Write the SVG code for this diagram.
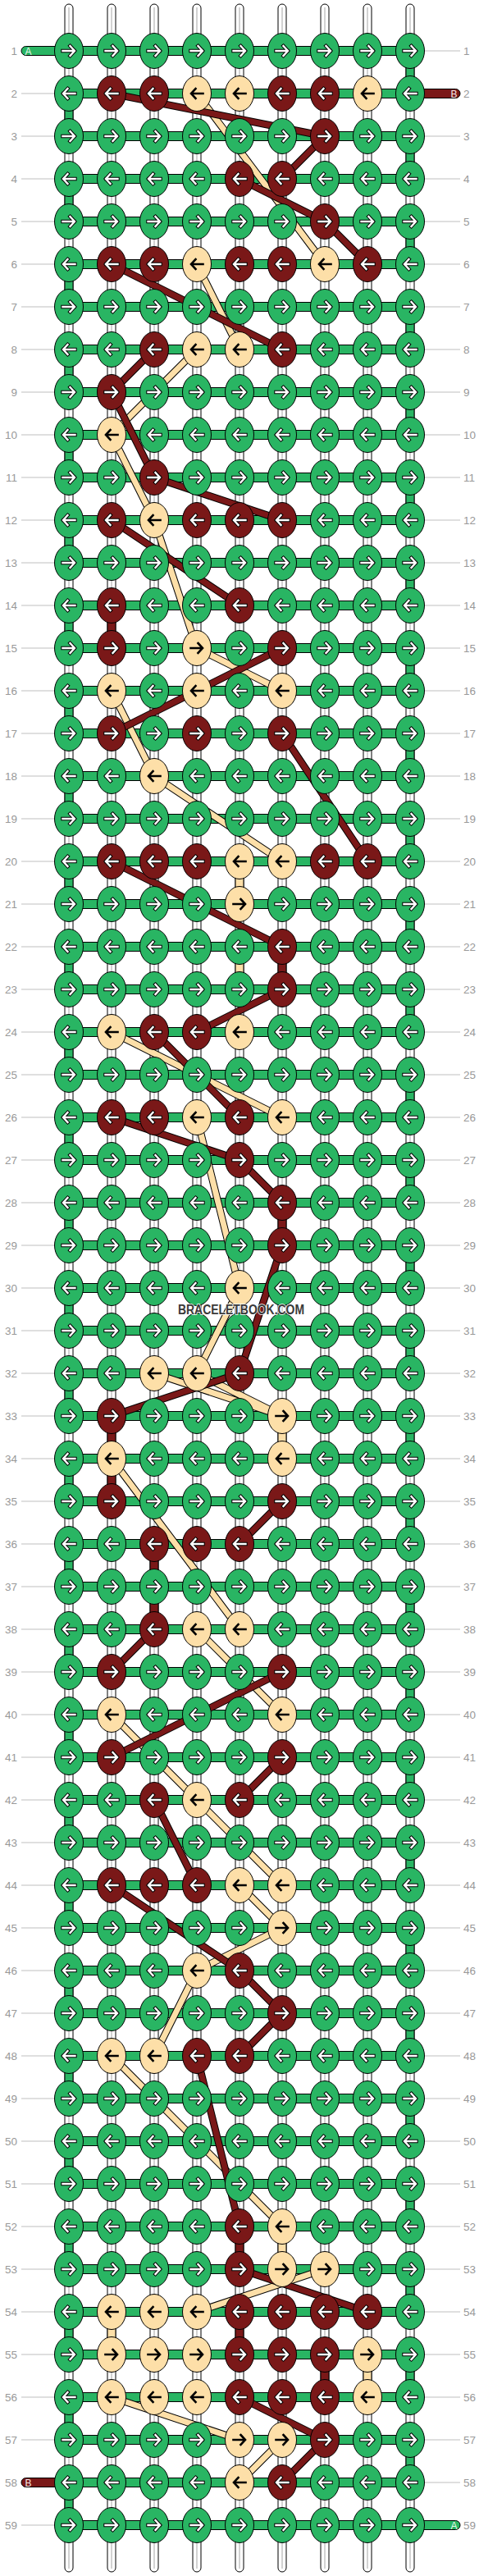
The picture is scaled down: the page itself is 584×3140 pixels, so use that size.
<svg xmlns="http://www.w3.org/2000/svg" xmlns:xlink="http://www.w3.org/1999/xlink" width="584" height="3140" viewBox="0 0 584 3140">
<style>
.kg{fill:#29b563;stroke:#000;stroke-width:1}
.kr{fill:#7a1818;stroke:#000;stroke-width:1}
.ky{fill:#fddfa8;stroke:#000;stroke-width:1}
.cg{fill:#29b563;stroke:#000;stroke-width:1}
.cr{fill:#7a1818;stroke:#000;stroke-width:1}
.cy{fill:#fddfa8;stroke:#000;stroke-width:1}
.ao{fill:none;stroke:#000;stroke-width:4.4;stroke-linecap:square}
.aw{fill:none;stroke:#fff;stroke-width:2.4;stroke-linecap:square}
.ab{fill:none;stroke:#000;stroke-width:2.6;stroke-linecap:square}
.st{fill:#fff;stroke:#000;stroke-width:1}
.sc{stroke:#c4c4c4;stroke-width:1.5}
.so{fill:none;stroke:#000;stroke-width:9}
.sr{fill:none;stroke:#7a1818;stroke-width:7}
.sy{fill:none;stroke:#fddfa8;stroke-width:7}
.lb{font-family:"Liberation Sans",Arial,sans-serif;font-size:13.5px;fill:#999}
.ll{fill:none;stroke:#c0c0c0;stroke-width:1.2}
.stub{font-family:"Liberation Sans",Arial,sans-serif;font-size:12px;text-anchor:middle}
</style>
<defs>
<path id="ar" d="M-7.5,0H6.5M1.5,-6L7,0L1.5,6"/>
<path id="al" d="M7.5,0H-6.5M-1.5,-6L-7,0L-1.5,6"/>
<g id="gr"><ellipse class="kg" rx="17.5" ry="21.5"/><use href="#ar" class="ao"/><use href="#ar" class="aw"/></g>
<g id="gl"><ellipse class="kg" rx="17.5" ry="21.5"/><use href="#al" class="ao"/><use href="#al" class="aw"/></g>
<g id="rr"><ellipse class="kr" rx="17.5" ry="21.5"/><use href="#ar" class="ao"/><use href="#ar" class="aw"/></g>
<g id="rl"><ellipse class="kr" rx="17.5" ry="21.5"/><use href="#al" class="ao"/><use href="#al" class="aw"/></g>
<g id="yr"><ellipse class="ky" rx="17.5" ry="21.5"/><use href="#ar" class="ab"/></g>
<g id="yl"><ellipse class="ky" rx="17.5" ry="21.5"/><use href="#al" class="ab"/></g>
<rect id="hb" class="cg" x="84" y="-5.5" width="416" height="11"/>
<rect id="vg" class="cg" x="-5" y="12" width="10" height="28"/>
<rect id="vr" class="cr" x="-5" y="12" width="10" height="28"/>
<rect id="vy" class="cy" x="-5" y="12" width="10" height="28"/>
<g id="lnY">
<path d="M240,114L396,322M240,322L292,426M240,426L136,530M136,530L188,634M188,634L240,790M240,790L344,842M136,842L188,946M188,946L344,1050M136,1258L344,1362M240,1362L292,1570M292,1570L240,1674M188,1674L344,1726M240,1674L344,1726M136,1778L292,1986M240,1986L344,2090M136,2090L240,2194M240,2194L344,2298M292,2298L344,2350M344,2350L240,2402M240,2402L188,2506M136,2506L344,2714M396,2766L240,2818M136,2922L292,2974M344,2974L292,3026"/>
</g>
<g id="lnR">
<path d="M136,114L396,166M396,166L344,218M292,218L396,270M396,270L448,322M136,322L344,426M188,426L136,478M136,478L188,582M188,582L344,634M136,634L292,738M344,790L136,894M344,894L448,1050M136,1050L344,1154M344,1206L240,1258M188,1258L292,1362M136,1362L292,1414M292,1414L344,1466M344,1518L292,1674M292,1674L136,1726M344,1830L292,1882M188,1986L136,2038M344,2038L136,2142M344,2142L292,2194M188,2194L240,2298M136,2298L292,2402M292,2402L344,2454M344,2454L292,2506M240,2506L292,2714M292,2766L448,2818M292,2922L396,2974M396,2974L344,3026"/>
</g>
</defs>
<rect width="584" height="3140" fill="#fff"/>
<g id="strings">
<rect class="st" x="79" y="5" width="10" height="3130" rx="5"/>
<rect class="st" x="131" y="5" width="10" height="3130" rx="5"/>
<rect class="st" x="183" y="5" width="10" height="3130" rx="5"/>
<rect class="st" x="235" y="5" width="10" height="3130" rx="5"/>
<rect class="st" x="287" y="5" width="10" height="3130" rx="5"/>
<rect class="st" x="339" y="5" width="10" height="3130" rx="5"/>
<rect class="st" x="391" y="5" width="10" height="3130" rx="5"/>
<rect class="st" x="443" y="5" width="10" height="3130" rx="5"/>
<rect class="st" x="495" y="5" width="10" height="3130" rx="5"/>
<path class="sc" d="M84,9V3131M136,9V3131M188,9V3131M240,9V3131M292,9V3131M344,9V3131M396,9V3131M448,9V3131M500,9V3131"/>
</g>
<g id="connectors">
<g id="rows-thread">
<use href="#hb" y="62"/><use href="#hb" y="114"/><use href="#hb" y="166"/><use href="#hb" y="218"/><use href="#hb" y="270"/><use href="#hb" y="322"/><use href="#hb" y="374"/><use href="#hb" y="426"/><use href="#hb" y="478"/><use href="#hb" y="530"/>
<use href="#hb" y="582"/><use href="#hb" y="634"/><use href="#hb" y="686"/><use href="#hb" y="738"/><use href="#hb" y="790"/><use href="#hb" y="842"/><use href="#hb" y="894"/><use href="#hb" y="946"/><use href="#hb" y="998"/><use href="#hb" y="1050"/>
<use href="#hb" y="1102"/><use href="#hb" y="1154"/><use href="#hb" y="1206"/><use href="#hb" y="1258"/><use href="#hb" y="1310"/><use href="#hb" y="1362"/><use href="#hb" y="1414"/><use href="#hb" y="1466"/><use href="#hb" y="1518"/><use href="#hb" y="1570"/>
<use href="#hb" y="1622"/><use href="#hb" y="1674"/><use href="#hb" y="1726"/><use href="#hb" y="1778"/><use href="#hb" y="1830"/><use href="#hb" y="1882"/><use href="#hb" y="1934"/><use href="#hb" y="1986"/><use href="#hb" y="2038"/><use href="#hb" y="2090"/>
<use href="#hb" y="2142"/><use href="#hb" y="2194"/><use href="#hb" y="2246"/><use href="#hb" y="2298"/><use href="#hb" y="2350"/><use href="#hb" y="2402"/><use href="#hb" y="2454"/><use href="#hb" y="2506"/><use href="#hb" y="2558"/><use href="#hb" y="2610"/>
<use href="#hb" y="2662"/><use href="#hb" y="2714"/><use href="#hb" y="2766"/><use href="#hb" y="2818"/><use href="#hb" y="2870"/><use href="#hb" y="2922"/><use href="#hb" y="2974"/><use href="#hb" y="3026"/><use href="#hb" y="3078"/>
</g>
<g id="edge-turns">
<use href="#vg" x="84" y="114"/><use href="#vg" x="84" y="218"/><use href="#vg" x="84" y="322"/><use href="#vg" x="84" y="426"/><use href="#vg" x="84" y="530"/><use href="#vg" x="84" y="634"/><use href="#vg" x="84" y="738"/><use href="#vg" x="84" y="842"/><use href="#vg" x="84" y="946"/><use href="#vg" x="84" y="1050"/>
<use href="#vg" x="84" y="1154"/><use href="#vg" x="84" y="1258"/><use href="#vg" x="84" y="1362"/><use href="#vg" x="84" y="1466"/><use href="#vg" x="84" y="1570"/><use href="#vg" x="84" y="1674"/><use href="#vg" x="84" y="1778"/><use href="#vg" x="84" y="1882"/><use href="#vg" x="84" y="1986"/><use href="#vg" x="84" y="2090"/>
<use href="#vg" x="84" y="2194"/><use href="#vg" x="84" y="2298"/><use href="#vg" x="84" y="2402"/><use href="#vg" x="84" y="2506"/><use href="#vg" x="84" y="2610"/><use href="#vg" x="84" y="2714"/><use href="#vg" x="84" y="2818"/><use href="#vg" x="84" y="2922"/><use href="#vg" x="84" y="3026"/>
<use href="#vg" x="500" y="62"/><use href="#vg" x="500" y="166"/><use href="#vg" x="500" y="270"/><use href="#vg" x="500" y="374"/><use href="#vg" x="500" y="478"/><use href="#vg" x="500" y="582"/><use href="#vg" x="500" y="686"/><use href="#vg" x="500" y="790"/><use href="#vg" x="500" y="894"/><use href="#vg" x="500" y="998"/>
<use href="#vg" x="500" y="1102"/><use href="#vg" x="500" y="1206"/><use href="#vg" x="500" y="1310"/><use href="#vg" x="500" y="1414"/><use href="#vg" x="500" y="1518"/><use href="#vg" x="500" y="1622"/><use href="#vg" x="500" y="1726"/><use href="#vg" x="500" y="1830"/><use href="#vg" x="500" y="1934"/><use href="#vg" x="500" y="2038"/>
<use href="#vg" x="500" y="2142"/><use href="#vg" x="500" y="2246"/><use href="#vg" x="500" y="2350"/><use href="#vg" x="500" y="2454"/><use href="#vg" x="500" y="2558"/><use href="#vg" x="500" y="2662"/><use href="#vg" x="500" y="2766"/><use href="#vg" x="500" y="2870"/><use href="#vg" x="500" y="2974"/>
</g>
<g id="color-verticals">
<use href="#vr" x="136" y="738"/><use href="#vr" x="344" y="1154"/><use href="#vr" x="344" y="1466"/><use href="#vr" x="136" y="1726"/><use href="#vr" x="136" y="1778"/><use href="#vr" x="188" y="1882"/><use href="#vr" x="188" y="1934"/><use href="#vr" x="292" y="2714"/><use href="#vr" x="292" y="2818"/><use href="#vr" x="396" y="2870"/>
<use href="#vy" x="292" y="1050"/><use href="#vy" x="292" y="1154"/><use href="#vy" x="344" y="1726"/><use href="#vy" x="344" y="2714"/><use href="#vy" x="136" y="2818"/><use href="#vy" x="448" y="2870"/>
</g>
<g id="strands">
<use href="#lnY" class="so"/><use href="#lnY" class="sy"/>
<use href="#lnR" class="so"/><use href="#lnR" class="sr"/>
</g>
<g id="stubs">
<rect class="cg" x="26" y="56.5" width="62" height="11" rx="5.5"/>
<rect class="cr" x="496" y="108.5" width="65" height="11" rx="5.5"/>
<rect class="cr" x="26" y="3020.5" width="62" height="11" rx="5.5"/>
<rect class="cg" x="496" y="3072.5" width="65" height="11" rx="5.5"/>
<text class="stub" x="34.5" y="66.5" fill="#e6f7ea">A</text>
<text class="stub" x="553.5" y="118.5" fill="#f5e6e6">B</text>
<text class="stub" x="34.5" y="3030.5" fill="#f5e6e6">B</text>
<text class="stub" x="553.5" y="3082.5" fill="#e6f7ea">A</text>
</g>
</g>
<g id="labels">
<path class="ll" d="M26,114H67M26,166H67M26,218H67M26,270H67M26,322H67M26,374H67M26,426H67M26,478H67M26,530H67M26,582H67M26,634H67M26,686H67M26,738H67M26,790H67M26,842H67M26,894H67M26,946H67M26,998H67M26,1050H67M26,1102H67M26,1154H67M26,1206H67M26,1258H67M26,1310H67M26,1362H67M26,1414H67M26,1466H67M26,1518H67M26,1570H67M26,1622H67M26,1674H67M26,1726H67M26,1778H67M26,1830H67M26,1882H67M26,1934H67M26,1986H67M26,2038H67M26,2090H67M26,2142H67M26,2194H67M26,2246H67M26,2298H67M26,2350H67M26,2402H67M26,2454H67M26,2506H67M26,2558H67M26,2610H67M26,2662H67M26,2714H67M26,2766H67M26,2818H67M26,2870H67M26,2922H67M26,2974H67M26,3078H67"/>
<path class="ll" d="M517,62H561M517,166H561M517,218H561M517,270H561M517,322H561M517,374H561M517,426H561M517,478H561M517,530H561M517,582H561M517,634H561M517,686H561M517,738H561M517,790H561M517,842H561M517,894H561M517,946H561M517,998H561M517,1050H561M517,1102H561M517,1154H561M517,1206H561M517,1258H561M517,1310H561M517,1362H561M517,1414H561M517,1466H561M517,1518H561M517,1570H561M517,1622H561M517,1674H561M517,1726H561M517,1778H561M517,1830H561M517,1882H561M517,1934H561M517,1986H561M517,2038H561M517,2090H561M517,2142H561M517,2194H561M517,2246H561M517,2298H561M517,2350H561M517,2402H561M517,2454H561M517,2506H561M517,2558H561M517,2610H561M517,2662H561M517,2714H561M517,2766H561M517,2818H561M517,2870H561M517,2922H561M517,2974H561M517,3026H561"/>
<g class="lb" text-anchor="end">
<text x="21" y="67">1</text><text x="21" y="119">2</text><text x="21" y="171">3</text><text x="21" y="223">4</text><text x="21" y="275">5</text><text x="21" y="327">6</text><text x="21" y="379">7</text><text x="21" y="431">8</text><text x="21" y="483">9</text><text x="21" y="535">10</text>
<text x="21" y="587">11</text><text x="21" y="639">12</text><text x="21" y="691">13</text><text x="21" y="743">14</text><text x="21" y="795">15</text><text x="21" y="847">16</text><text x="21" y="899">17</text><text x="21" y="951">18</text><text x="21" y="1003">19</text><text x="21" y="1055">20</text>
<text x="21" y="1107">21</text><text x="21" y="1159">22</text><text x="21" y="1211">23</text><text x="21" y="1263">24</text><text x="21" y="1315">25</text><text x="21" y="1367">26</text><text x="21" y="1419">27</text><text x="21" y="1471">28</text><text x="21" y="1523">29</text><text x="21" y="1575">30</text>
<text x="21" y="1627">31</text><text x="21" y="1679">32</text><text x="21" y="1731">33</text><text x="21" y="1783">34</text><text x="21" y="1835">35</text><text x="21" y="1887">36</text><text x="21" y="1939">37</text><text x="21" y="1991">38</text><text x="21" y="2043">39</text><text x="21" y="2095">40</text>
<text x="21" y="2147">41</text><text x="21" y="2199">42</text><text x="21" y="2251">43</text><text x="21" y="2303">44</text><text x="21" y="2355">45</text><text x="21" y="2407">46</text><text x="21" y="2459">47</text><text x="21" y="2511">48</text><text x="21" y="2563">49</text><text x="21" y="2615">50</text>
<text x="21" y="2667">51</text><text x="21" y="2719">52</text><text x="21" y="2771">53</text><text x="21" y="2823">54</text><text x="21" y="2875">55</text><text x="21" y="2927">56</text><text x="21" y="2979">57</text><text x="21" y="3031">58</text><text x="21" y="3083">59</text>
</g>
<g class="lb" text-anchor="start">
<text x="565" y="67">1</text><text x="565" y="119">2</text><text x="565" y="171">3</text><text x="565" y="223">4</text><text x="565" y="275">5</text><text x="565" y="327">6</text><text x="565" y="379">7</text><text x="565" y="431">8</text><text x="565" y="483">9</text><text x="565" y="535">10</text>
<text x="565" y="587">11</text><text x="565" y="639">12</text><text x="565" y="691">13</text><text x="565" y="743">14</text><text x="565" y="795">15</text><text x="565" y="847">16</text><text x="565" y="899">17</text><text x="565" y="951">18</text><text x="565" y="1003">19</text><text x="565" y="1055">20</text>
<text x="565" y="1107">21</text><text x="565" y="1159">22</text><text x="565" y="1211">23</text><text x="565" y="1263">24</text><text x="565" y="1315">25</text><text x="565" y="1367">26</text><text x="565" y="1419">27</text><text x="565" y="1471">28</text><text x="565" y="1523">29</text><text x="565" y="1575">30</text>
<text x="565" y="1627">31</text><text x="565" y="1679">32</text><text x="565" y="1731">33</text><text x="565" y="1783">34</text><text x="565" y="1835">35</text><text x="565" y="1887">36</text><text x="565" y="1939">37</text><text x="565" y="1991">38</text><text x="565" y="2043">39</text><text x="565" y="2095">40</text>
<text x="565" y="2147">41</text><text x="565" y="2199">42</text><text x="565" y="2251">43</text><text x="565" y="2303">44</text><text x="565" y="2355">45</text><text x="565" y="2407">46</text><text x="565" y="2459">47</text><text x="565" y="2511">48</text><text x="565" y="2563">49</text><text x="565" y="2615">50</text>
<text x="565" y="2667">51</text><text x="565" y="2719">52</text><text x="565" y="2771">53</text><text x="565" y="2823">54</text><text x="565" y="2875">55</text><text x="565" y="2927">56</text><text x="565" y="2979">57</text><text x="565" y="3031">58</text><text x="565" y="3083">59</text>
</g>
</g>
<g id="knots">
<g id="row1" transform="translate(0,62)"><g id="k1-1"><use href="#gr" x="84"/></g><g id="k1-2"><use href="#gr" x="136"/></g><g id="k1-3"><use href="#gr" x="188"/></g><g id="k1-4"><use href="#gr" x="240"/></g><g id="k1-5"><use href="#gr" x="292"/></g><g id="k1-6"><use href="#gr" x="344"/></g><g id="k1-7"><use href="#gr" x="396"/></g><g id="k1-8"><use href="#gr" x="448"/></g><g id="k1-9"><use href="#gr" x="500"/></g></g>
<g id="row2" transform="translate(0,114)"><g id="k2-1"><use href="#gl" x="84"/></g><g id="k2-2"><use href="#rl" x="136"/></g><g id="k2-3"><use href="#rl" x="188"/></g><g id="k2-4"><use href="#yl" x="240"/></g><g id="k2-5"><use href="#yl" x="292"/></g><g id="k2-6"><use href="#rl" x="344"/></g><g id="k2-7"><use href="#rl" x="396"/></g><g id="k2-8"><use href="#yl" x="448"/></g><g id="k2-9"><use href="#gl" x="500"/></g></g>
<g id="row3" transform="translate(0,166)"><g id="k3-1"><use href="#gr" x="84"/></g><g id="k3-2"><use href="#gr" x="136"/></g><g id="k3-3"><use href="#gr" x="188"/></g><g id="k3-4"><use href="#gr" x="240"/></g><g id="k3-5"><use href="#gr" x="292"/></g><g id="k3-6"><use href="#gr" x="344"/></g><g id="k3-7"><use href="#rr" x="396"/></g><g id="k3-8"><use href="#gr" x="448"/></g><g id="k3-9"><use href="#gr" x="500"/></g></g>
<g id="row4" transform="translate(0,218)"><g id="k4-1"><use href="#gl" x="84"/></g><g id="k4-2"><use href="#gl" x="136"/></g><g id="k4-3"><use href="#gl" x="188"/></g><g id="k4-4"><use href="#gl" x="240"/></g><g id="k4-5"><use href="#rl" x="292"/></g><g id="k4-6"><use href="#rl" x="344"/></g><g id="k4-7"><use href="#gl" x="396"/></g><g id="k4-8"><use href="#gl" x="448"/></g><g id="k4-9"><use href="#gl" x="500"/></g></g>
<g id="row5" transform="translate(0,270)"><g id="k5-1"><use href="#gr" x="84"/></g><g id="k5-2"><use href="#gr" x="136"/></g><g id="k5-3"><use href="#gr" x="188"/></g><g id="k5-4"><use href="#gr" x="240"/></g><g id="k5-5"><use href="#gr" x="292"/></g><g id="k5-6"><use href="#gr" x="344"/></g><g id="k5-7"><use href="#rr" x="396"/></g><g id="k5-8"><use href="#gr" x="448"/></g><g id="k5-9"><use href="#gr" x="500"/></g></g>
<g id="row6" transform="translate(0,322)"><g id="k6-1"><use href="#gl" x="84"/></g><g id="k6-2"><use href="#rl" x="136"/></g><g id="k6-3"><use href="#rl" x="188"/></g><g id="k6-4"><use href="#yl" x="240"/></g><g id="k6-5"><use href="#rl" x="292"/></g><g id="k6-6"><use href="#rl" x="344"/></g><g id="k6-7"><use href="#yl" x="396"/></g><g id="k6-8"><use href="#rl" x="448"/></g><g id="k6-9"><use href="#gl" x="500"/></g></g>
<g id="row7" transform="translate(0,374)"><g id="k7-1"><use href="#gr" x="84"/></g><g id="k7-2"><use href="#gr" x="136"/></g><g id="k7-3"><use href="#gr" x="188"/></g><g id="k7-4"><use href="#gr" x="240"/></g><g id="k7-5"><use href="#gr" x="292"/></g><g id="k7-6"><use href="#gr" x="344"/></g><g id="k7-7"><use href="#gr" x="396"/></g><g id="k7-8"><use href="#gr" x="448"/></g><g id="k7-9"><use href="#gr" x="500"/></g></g>
<g id="row8" transform="translate(0,426)"><g id="k8-1"><use href="#gl" x="84"/></g><g id="k8-2"><use href="#gl" x="136"/></g><g id="k8-3"><use href="#rl" x="188"/></g><g id="k8-4"><use href="#yl" x="240"/></g><g id="k8-5"><use href="#yl" x="292"/></g><g id="k8-6"><use href="#rl" x="344"/></g><g id="k8-7"><use href="#gl" x="396"/></g><g id="k8-8"><use href="#gl" x="448"/></g><g id="k8-9"><use href="#gl" x="500"/></g></g>
<g id="row9" transform="translate(0,478)"><g id="k9-1"><use href="#gr" x="84"/></g><g id="k9-2"><use href="#rr" x="136"/></g><g id="k9-3"><use href="#gr" x="188"/></g><g id="k9-4"><use href="#gr" x="240"/></g><g id="k9-5"><use href="#gr" x="292"/></g><g id="k9-6"><use href="#gr" x="344"/></g><g id="k9-7"><use href="#gr" x="396"/></g><g id="k9-8"><use href="#gr" x="448"/></g><g id="k9-9"><use href="#gr" x="500"/></g></g>
<g id="row10" transform="translate(0,530)"><g id="k10-1"><use href="#gl" x="84"/></g><g id="k10-2"><use href="#yl" x="136"/></g><g id="k10-3"><use href="#gl" x="188"/></g><g id="k10-4"><use href="#gl" x="240"/></g><g id="k10-5"><use href="#gl" x="292"/></g><g id="k10-6"><use href="#gl" x="344"/></g><g id="k10-7"><use href="#gl" x="396"/></g><g id="k10-8"><use href="#gl" x="448"/></g><g id="k10-9"><use href="#gl" x="500"/></g></g>
<g id="row11" transform="translate(0,582)"><g id="k11-1"><use href="#gr" x="84"/></g><g id="k11-2"><use href="#gr" x="136"/></g><g id="k11-3"><use href="#rr" x="188"/></g><g id="k11-4"><use href="#gr" x="240"/></g><g id="k11-5"><use href="#gr" x="292"/></g><g id="k11-6"><use href="#gr" x="344"/></g><g id="k11-7"><use href="#gr" x="396"/></g><g id="k11-8"><use href="#gr" x="448"/></g><g id="k11-9"><use href="#gr" x="500"/></g></g>
<g id="row12" transform="translate(0,634)"><g id="k12-1"><use href="#gl" x="84"/></g><g id="k12-2"><use href="#rl" x="136"/></g><g id="k12-3"><use href="#yl" x="188"/></g><g id="k12-4"><use href="#rl" x="240"/></g><g id="k12-5"><use href="#rl" x="292"/></g><g id="k12-6"><use href="#rl" x="344"/></g><g id="k12-7"><use href="#gl" x="396"/></g><g id="k12-8"><use href="#gl" x="448"/></g><g id="k12-9"><use href="#gl" x="500"/></g></g>
<g id="row13" transform="translate(0,686)"><g id="k13-1"><use href="#gr" x="84"/></g><g id="k13-2"><use href="#gr" x="136"/></g><g id="k13-3"><use href="#gr" x="188"/></g><g id="k13-4"><use href="#gr" x="240"/></g><g id="k13-5"><use href="#gr" x="292"/></g><g id="k13-6"><use href="#gr" x="344"/></g><g id="k13-7"><use href="#gr" x="396"/></g><g id="k13-8"><use href="#gr" x="448"/></g><g id="k13-9"><use href="#gr" x="500"/></g></g>
<g id="row14" transform="translate(0,738)"><g id="k14-1"><use href="#gl" x="84"/></g><g id="k14-2"><use href="#rl" x="136"/></g><g id="k14-3"><use href="#gl" x="188"/></g><g id="k14-4"><use href="#gl" x="240"/></g><g id="k14-5"><use href="#rl" x="292"/></g><g id="k14-6"><use href="#gl" x="344"/></g><g id="k14-7"><use href="#gl" x="396"/></g><g id="k14-8"><use href="#gl" x="448"/></g><g id="k14-9"><use href="#gl" x="500"/></g></g>
<g id="row15" transform="translate(0,790)"><g id="k15-1"><use href="#gr" x="84"/></g><g id="k15-2"><use href="#rr" x="136"/></g><g id="k15-3"><use href="#gr" x="188"/></g><g id="k15-4"><use href="#yr" x="240"/></g><g id="k15-5"><use href="#gr" x="292"/></g><g id="k15-6"><use href="#rr" x="344"/></g><g id="k15-7"><use href="#gr" x="396"/></g><g id="k15-8"><use href="#gr" x="448"/></g><g id="k15-9"><use href="#gr" x="500"/></g></g>
<g id="row16" transform="translate(0,842)"><g id="k16-1"><use href="#gl" x="84"/></g><g id="k16-2"><use href="#yl" x="136"/></g><g id="k16-3"><use href="#gl" x="188"/></g><g id="k16-4"><use href="#yl" x="240"/></g><g id="k16-5"><use href="#gl" x="292"/></g><g id="k16-6"><use href="#yl" x="344"/></g><g id="k16-7"><use href="#gl" x="396"/></g><g id="k16-8"><use href="#gl" x="448"/></g><g id="k16-9"><use href="#gl" x="500"/></g></g>
<g id="row17" transform="translate(0,894)"><g id="k17-1"><use href="#gr" x="84"/></g><g id="k17-2"><use href="#rr" x="136"/></g><g id="k17-3"><use href="#gr" x="188"/></g><g id="k17-4"><use href="#rr" x="240"/></g><g id="k17-5"><use href="#gr" x="292"/></g><g id="k17-6"><use href="#rr" x="344"/></g><g id="k17-7"><use href="#gr" x="396"/></g><g id="k17-8"><use href="#gr" x="448"/></g><g id="k17-9"><use href="#gr" x="500"/></g></g>
<g id="row18" transform="translate(0,946)"><g id="k18-1"><use href="#gl" x="84"/></g><g id="k18-2"><use href="#gl" x="136"/></g><g id="k18-3"><use href="#yl" x="188"/></g><g id="k18-4"><use href="#gl" x="240"/></g><g id="k18-5"><use href="#gl" x="292"/></g><g id="k18-6"><use href="#gl" x="344"/></g><g id="k18-7"><use href="#gl" x="396"/></g><g id="k18-8"><use href="#gl" x="448"/></g><g id="k18-9"><use href="#gl" x="500"/></g></g>
<g id="row19" transform="translate(0,998)"><g id="k19-1"><use href="#gr" x="84"/></g><g id="k19-2"><use href="#gr" x="136"/></g><g id="k19-3"><use href="#gr" x="188"/></g><g id="k19-4"><use href="#gr" x="240"/></g><g id="k19-5"><use href="#gr" x="292"/></g><g id="k19-6"><use href="#gr" x="344"/></g><g id="k19-7"><use href="#gr" x="396"/></g><g id="k19-8"><use href="#gr" x="448"/></g><g id="k19-9"><use href="#gr" x="500"/></g></g>
<g id="row20" transform="translate(0,1050)"><g id="k20-1"><use href="#gl" x="84"/></g><g id="k20-2"><use href="#rl" x="136"/></g><g id="k20-3"><use href="#rl" x="188"/></g><g id="k20-4"><use href="#rl" x="240"/></g><g id="k20-5"><use href="#yl" x="292"/></g><g id="k20-6"><use href="#yl" x="344"/></g><g id="k20-7"><use href="#rl" x="396"/></g><g id="k20-8"><use href="#rl" x="448"/></g><g id="k20-9"><use href="#gl" x="500"/></g></g>
<g id="row21" transform="translate(0,1102)"><g id="k21-1"><use href="#gr" x="84"/></g><g id="k21-2"><use href="#gr" x="136"/></g><g id="k21-3"><use href="#gr" x="188"/></g><g id="k21-4"><use href="#gr" x="240"/></g><g id="k21-5"><use href="#yr" x="292"/></g><g id="k21-6"><use href="#gr" x="344"/></g><g id="k21-7"><use href="#gr" x="396"/></g><g id="k21-8"><use href="#gr" x="448"/></g><g id="k21-9"><use href="#gr" x="500"/></g></g>
<g id="row22" transform="translate(0,1154)"><g id="k22-1"><use href="#gl" x="84"/></g><g id="k22-2"><use href="#gl" x="136"/></g><g id="k22-3"><use href="#gl" x="188"/></g><g id="k22-4"><use href="#gl" x="240"/></g><g id="k22-5"><use href="#gl" x="292"/></g><g id="k22-6"><use href="#rl" x="344"/></g><g id="k22-7"><use href="#gl" x="396"/></g><g id="k22-8"><use href="#gl" x="448"/></g><g id="k22-9"><use href="#gl" x="500"/></g></g>
<g id="row23" transform="translate(0,1206)"><g id="k23-1"><use href="#gr" x="84"/></g><g id="k23-2"><use href="#gr" x="136"/></g><g id="k23-3"><use href="#gr" x="188"/></g><g id="k23-4"><use href="#gr" x="240"/></g><g id="k23-5"><use href="#gr" x="292"/></g><g id="k23-6"><use href="#rr" x="344"/></g><g id="k23-7"><use href="#gr" x="396"/></g><g id="k23-8"><use href="#gr" x="448"/></g><g id="k23-9"><use href="#gr" x="500"/></g></g>
<g id="row24" transform="translate(0,1258)"><g id="k24-1"><use href="#gl" x="84"/></g><g id="k24-2"><use href="#yl" x="136"/></g><g id="k24-3"><use href="#rl" x="188"/></g><g id="k24-4"><use href="#rl" x="240"/></g><g id="k24-5"><use href="#yl" x="292"/></g><g id="k24-6"><use href="#gl" x="344"/></g><g id="k24-7"><use href="#gl" x="396"/></g><g id="k24-8"><use href="#gl" x="448"/></g><g id="k24-9"><use href="#gl" x="500"/></g></g>
<g id="row25" transform="translate(0,1310)"><g id="k25-1"><use href="#gr" x="84"/></g><g id="k25-2"><use href="#gr" x="136"/></g><g id="k25-3"><use href="#gr" x="188"/></g><g id="k25-4"><use href="#gr" x="240"/></g><g id="k25-5"><use href="#gr" x="292"/></g><g id="k25-6"><use href="#gr" x="344"/></g><g id="k25-7"><use href="#gr" x="396"/></g><g id="k25-8"><use href="#gr" x="448"/></g><g id="k25-9"><use href="#gr" x="500"/></g></g>
<g id="row26" transform="translate(0,1362)"><g id="k26-1"><use href="#gl" x="84"/></g><g id="k26-2"><use href="#rl" x="136"/></g><g id="k26-3"><use href="#rl" x="188"/></g><g id="k26-4"><use href="#yl" x="240"/></g><g id="k26-5"><use href="#rl" x="292"/></g><g id="k26-6"><use href="#yl" x="344"/></g><g id="k26-7"><use href="#gl" x="396"/></g><g id="k26-8"><use href="#gl" x="448"/></g><g id="k26-9"><use href="#gl" x="500"/></g></g>
<g id="row27" transform="translate(0,1414)"><g id="k27-1"><use href="#gr" x="84"/></g><g id="k27-2"><use href="#gr" x="136"/></g><g id="k27-3"><use href="#gr" x="188"/></g><g id="k27-4"><use href="#gr" x="240"/></g><g id="k27-5"><use href="#rr" x="292"/></g><g id="k27-6"><use href="#gr" x="344"/></g><g id="k27-7"><use href="#gr" x="396"/></g><g id="k27-8"><use href="#gr" x="448"/></g><g id="k27-9"><use href="#gr" x="500"/></g></g>
<g id="row28" transform="translate(0,1466)"><g id="k28-1"><use href="#gl" x="84"/></g><g id="k28-2"><use href="#gl" x="136"/></g><g id="k28-3"><use href="#gl" x="188"/></g><g id="k28-4"><use href="#gl" x="240"/></g><g id="k28-5"><use href="#gl" x="292"/></g><g id="k28-6"><use href="#rl" x="344"/></g><g id="k28-7"><use href="#gl" x="396"/></g><g id="k28-8"><use href="#gl" x="448"/></g><g id="k28-9"><use href="#gl" x="500"/></g></g>
<g id="row29" transform="translate(0,1518)"><g id="k29-1"><use href="#gr" x="84"/></g><g id="k29-2"><use href="#gr" x="136"/></g><g id="k29-3"><use href="#gr" x="188"/></g><g id="k29-4"><use href="#gr" x="240"/></g><g id="k29-5"><use href="#gr" x="292"/></g><g id="k29-6"><use href="#rr" x="344"/></g><g id="k29-7"><use href="#gr" x="396"/></g><g id="k29-8"><use href="#gr" x="448"/></g><g id="k29-9"><use href="#gr" x="500"/></g></g>
<g id="row30" transform="translate(0,1570)"><g id="k30-1"><use href="#gl" x="84"/></g><g id="k30-2"><use href="#gl" x="136"/></g><g id="k30-3"><use href="#gl" x="188"/></g><g id="k30-4"><use href="#gl" x="240"/></g><g id="k30-5"><use href="#yl" x="292"/></g><g id="k30-6"><use href="#gl" x="344"/></g><g id="k30-7"><use href="#gl" x="396"/></g><g id="k30-8"><use href="#gl" x="448"/></g><g id="k30-9"><use href="#gl" x="500"/></g></g>
<g id="row31" transform="translate(0,1622)"><g id="k31-1"><use href="#gr" x="84"/></g><g id="k31-2"><use href="#gr" x="136"/></g><g id="k31-3"><use href="#gr" x="188"/></g><g id="k31-4"><use href="#gr" x="240"/></g><g id="k31-5"><use href="#gr" x="292"/></g><g id="k31-6"><use href="#gr" x="344"/></g><g id="k31-7"><use href="#gr" x="396"/></g><g id="k31-8"><use href="#gr" x="448"/></g><g id="k31-9"><use href="#gr" x="500"/></g></g>
<g id="row32" transform="translate(0,1674)"><g id="k32-1"><use href="#gl" x="84"/></g><g id="k32-2"><use href="#gl" x="136"/></g><g id="k32-3"><use href="#yl" x="188"/></g><g id="k32-4"><use href="#yl" x="240"/></g><g id="k32-5"><use href="#rl" x="292"/></g><g id="k32-6"><use href="#gl" x="344"/></g><g id="k32-7"><use href="#gl" x="396"/></g><g id="k32-8"><use href="#gl" x="448"/></g><g id="k32-9"><use href="#gl" x="500"/></g></g>
<g id="row33" transform="translate(0,1726)"><g id="k33-1"><use href="#gr" x="84"/></g><g id="k33-2"><use href="#rr" x="136"/></g><g id="k33-3"><use href="#gr" x="188"/></g><g id="k33-4"><use href="#gr" x="240"/></g><g id="k33-5"><use href="#gr" x="292"/></g><g id="k33-6"><use href="#yr" x="344"/></g><g id="k33-7"><use href="#gr" x="396"/></g><g id="k33-8"><use href="#gr" x="448"/></g><g id="k33-9"><use href="#gr" x="500"/></g></g>
<g id="row34" transform="translate(0,1778)"><g id="k34-1"><use href="#gl" x="84"/></g><g id="k34-2"><use href="#yl" x="136"/></g><g id="k34-3"><use href="#gl" x="188"/></g><g id="k34-4"><use href="#gl" x="240"/></g><g id="k34-5"><use href="#gl" x="292"/></g><g id="k34-6"><use href="#yl" x="344"/></g><g id="k34-7"><use href="#gl" x="396"/></g><g id="k34-8"><use href="#gl" x="448"/></g><g id="k34-9"><use href="#gl" x="500"/></g></g>
<g id="row35" transform="translate(0,1830)"><g id="k35-1"><use href="#gr" x="84"/></g><g id="k35-2"><use href="#rr" x="136"/></g><g id="k35-3"><use href="#gr" x="188"/></g><g id="k35-4"><use href="#gr" x="240"/></g><g id="k35-5"><use href="#gr" x="292"/></g><g id="k35-6"><use href="#rr" x="344"/></g><g id="k35-7"><use href="#gr" x="396"/></g><g id="k35-8"><use href="#gr" x="448"/></g><g id="k35-9"><use href="#gr" x="500"/></g></g>
<g id="row36" transform="translate(0,1882)"><g id="k36-1"><use href="#gl" x="84"/></g><g id="k36-2"><use href="#gl" x="136"/></g><g id="k36-3"><use href="#rl" x="188"/></g><g id="k36-4"><use href="#rl" x="240"/></g><g id="k36-5"><use href="#rl" x="292"/></g><g id="k36-6"><use href="#gl" x="344"/></g><g id="k36-7"><use href="#gl" x="396"/></g><g id="k36-8"><use href="#gl" x="448"/></g><g id="k36-9"><use href="#gl" x="500"/></g></g>
<g id="row37" transform="translate(0,1934)"><g id="k37-1"><use href="#gr" x="84"/></g><g id="k37-2"><use href="#gr" x="136"/></g><g id="k37-3"><use href="#gr" x="188"/></g><g id="k37-4"><use href="#gr" x="240"/></g><g id="k37-5"><use href="#gr" x="292"/></g><g id="k37-6"><use href="#gr" x="344"/></g><g id="k37-7"><use href="#gr" x="396"/></g><g id="k37-8"><use href="#gr" x="448"/></g><g id="k37-9"><use href="#gr" x="500"/></g></g>
<g id="row38" transform="translate(0,1986)"><g id="k38-1"><use href="#gl" x="84"/></g><g id="k38-2"><use href="#gl" x="136"/></g><g id="k38-3"><use href="#rl" x="188"/></g><g id="k38-4"><use href="#yl" x="240"/></g><g id="k38-5"><use href="#yl" x="292"/></g><g id="k38-6"><use href="#gl" x="344"/></g><g id="k38-7"><use href="#gl" x="396"/></g><g id="k38-8"><use href="#gl" x="448"/></g><g id="k38-9"><use href="#gl" x="500"/></g></g>
<g id="row39" transform="translate(0,2038)"><g id="k39-1"><use href="#gr" x="84"/></g><g id="k39-2"><use href="#rr" x="136"/></g><g id="k39-3"><use href="#gr" x="188"/></g><g id="k39-4"><use href="#gr" x="240"/></g><g id="k39-5"><use href="#gr" x="292"/></g><g id="k39-6"><use href="#rr" x="344"/></g><g id="k39-7"><use href="#gr" x="396"/></g><g id="k39-8"><use href="#gr" x="448"/></g><g id="k39-9"><use href="#gr" x="500"/></g></g>
<g id="row40" transform="translate(0,2090)"><g id="k40-1"><use href="#gl" x="84"/></g><g id="k40-2"><use href="#yl" x="136"/></g><g id="k40-3"><use href="#gl" x="188"/></g><g id="k40-4"><use href="#gl" x="240"/></g><g id="k40-5"><use href="#gl" x="292"/></g><g id="k40-6"><use href="#yl" x="344"/></g><g id="k40-7"><use href="#gl" x="396"/></g><g id="k40-8"><use href="#gl" x="448"/></g><g id="k40-9"><use href="#gl" x="500"/></g></g>
<g id="row41" transform="translate(0,2142)"><g id="k41-1"><use href="#gr" x="84"/></g><g id="k41-2"><use href="#rr" x="136"/></g><g id="k41-3"><use href="#gr" x="188"/></g><g id="k41-4"><use href="#gr" x="240"/></g><g id="k41-5"><use href="#gr" x="292"/></g><g id="k41-6"><use href="#rr" x="344"/></g><g id="k41-7"><use href="#gr" x="396"/></g><g id="k41-8"><use href="#gr" x="448"/></g><g id="k41-9"><use href="#gr" x="500"/></g></g>
<g id="row42" transform="translate(0,2194)"><g id="k42-1"><use href="#gl" x="84"/></g><g id="k42-2"><use href="#gl" x="136"/></g><g id="k42-3"><use href="#rl" x="188"/></g><g id="k42-4"><use href="#yl" x="240"/></g><g id="k42-5"><use href="#rl" x="292"/></g><g id="k42-6"><use href="#gl" x="344"/></g><g id="k42-7"><use href="#gl" x="396"/></g><g id="k42-8"><use href="#gl" x="448"/></g><g id="k42-9"><use href="#gl" x="500"/></g></g>
<g id="row43" transform="translate(0,2246)"><g id="k43-1"><use href="#gr" x="84"/></g><g id="k43-2"><use href="#gr" x="136"/></g><g id="k43-3"><use href="#gr" x="188"/></g><g id="k43-4"><use href="#gr" x="240"/></g><g id="k43-5"><use href="#gr" x="292"/></g><g id="k43-6"><use href="#gr" x="344"/></g><g id="k43-7"><use href="#gr" x="396"/></g><g id="k43-8"><use href="#gr" x="448"/></g><g id="k43-9"><use href="#gr" x="500"/></g></g>
<g id="row44" transform="translate(0,2298)"><g id="k44-1"><use href="#gl" x="84"/></g><g id="k44-2"><use href="#rl" x="136"/></g><g id="k44-3"><use href="#rl" x="188"/></g><g id="k44-4"><use href="#rl" x="240"/></g><g id="k44-5"><use href="#yl" x="292"/></g><g id="k44-6"><use href="#yl" x="344"/></g><g id="k44-7"><use href="#gl" x="396"/></g><g id="k44-8"><use href="#gl" x="448"/></g><g id="k44-9"><use href="#gl" x="500"/></g></g>
<g id="row45" transform="translate(0,2350)"><g id="k45-1"><use href="#gr" x="84"/></g><g id="k45-2"><use href="#gr" x="136"/></g><g id="k45-3"><use href="#gr" x="188"/></g><g id="k45-4"><use href="#gr" x="240"/></g><g id="k45-5"><use href="#gr" x="292"/></g><g id="k45-6"><use href="#yr" x="344"/></g><g id="k45-7"><use href="#gr" x="396"/></g><g id="k45-8"><use href="#gr" x="448"/></g><g id="k45-9"><use href="#gr" x="500"/></g></g>
<g id="row46" transform="translate(0,2402)"><g id="k46-1"><use href="#gl" x="84"/></g><g id="k46-2"><use href="#gl" x="136"/></g><g id="k46-3"><use href="#gl" x="188"/></g><g id="k46-4"><use href="#yl" x="240"/></g><g id="k46-5"><use href="#rl" x="292"/></g><g id="k46-6"><use href="#gl" x="344"/></g><g id="k46-7"><use href="#gl" x="396"/></g><g id="k46-8"><use href="#gl" x="448"/></g><g id="k46-9"><use href="#gl" x="500"/></g></g>
<g id="row47" transform="translate(0,2454)"><g id="k47-1"><use href="#gr" x="84"/></g><g id="k47-2"><use href="#gr" x="136"/></g><g id="k47-3"><use href="#gr" x="188"/></g><g id="k47-4"><use href="#gr" x="240"/></g><g id="k47-5"><use href="#gr" x="292"/></g><g id="k47-6"><use href="#rr" x="344"/></g><g id="k47-7"><use href="#gr" x="396"/></g><g id="k47-8"><use href="#gr" x="448"/></g><g id="k47-9"><use href="#gr" x="500"/></g></g>
<g id="row48" transform="translate(0,2506)"><g id="k48-1"><use href="#gl" x="84"/></g><g id="k48-2"><use href="#yl" x="136"/></g><g id="k48-3"><use href="#yl" x="188"/></g><g id="k48-4"><use href="#rl" x="240"/></g><g id="k48-5"><use href="#rl" x="292"/></g><g id="k48-6"><use href="#gl" x="344"/></g><g id="k48-7"><use href="#gl" x="396"/></g><g id="k48-8"><use href="#gl" x="448"/></g><g id="k48-9"><use href="#gl" x="500"/></g></g>
<g id="row49" transform="translate(0,2558)"><g id="k49-1"><use href="#gr" x="84"/></g><g id="k49-2"><use href="#gr" x="136"/></g><g id="k49-3"><use href="#gr" x="188"/></g><g id="k49-4"><use href="#gr" x="240"/></g><g id="k49-5"><use href="#gr" x="292"/></g><g id="k49-6"><use href="#gr" x="344"/></g><g id="k49-7"><use href="#gr" x="396"/></g><g id="k49-8"><use href="#gr" x="448"/></g><g id="k49-9"><use href="#gr" x="500"/></g></g>
<g id="row50" transform="translate(0,2610)"><g id="k50-1"><use href="#gl" x="84"/></g><g id="k50-2"><use href="#gl" x="136"/></g><g id="k50-3"><use href="#gl" x="188"/></g><g id="k50-4"><use href="#gl" x="240"/></g><g id="k50-5"><use href="#gl" x="292"/></g><g id="k50-6"><use href="#gl" x="344"/></g><g id="k50-7"><use href="#gl" x="396"/></g><g id="k50-8"><use href="#gl" x="448"/></g><g id="k50-9"><use href="#gl" x="500"/></g></g>
<g id="row51" transform="translate(0,2662)"><g id="k51-1"><use href="#gr" x="84"/></g><g id="k51-2"><use href="#gr" x="136"/></g><g id="k51-3"><use href="#gr" x="188"/></g><g id="k51-4"><use href="#gr" x="240"/></g><g id="k51-5"><use href="#gr" x="292"/></g><g id="k51-6"><use href="#gr" x="344"/></g><g id="k51-7"><use href="#gr" x="396"/></g><g id="k51-8"><use href="#gr" x="448"/></g><g id="k51-9"><use href="#gr" x="500"/></g></g>
<g id="row52" transform="translate(0,2714)"><g id="k52-1"><use href="#gl" x="84"/></g><g id="k52-2"><use href="#gl" x="136"/></g><g id="k52-3"><use href="#gl" x="188"/></g><g id="k52-4"><use href="#gl" x="240"/></g><g id="k52-5"><use href="#rl" x="292"/></g><g id="k52-6"><use href="#yl" x="344"/></g><g id="k52-7"><use href="#gl" x="396"/></g><g id="k52-8"><use href="#gl" x="448"/></g><g id="k52-9"><use href="#gl" x="500"/></g></g>
<g id="row53" transform="translate(0,2766)"><g id="k53-1"><use href="#gr" x="84"/></g><g id="k53-2"><use href="#gr" x="136"/></g><g id="k53-3"><use href="#gr" x="188"/></g><g id="k53-4"><use href="#gr" x="240"/></g><g id="k53-5"><use href="#rr" x="292"/></g><g id="k53-6"><use href="#yr" x="344"/></g><g id="k53-7"><use href="#yr" x="396"/></g><g id="k53-8"><use href="#gr" x="448"/></g><g id="k53-9"><use href="#gr" x="500"/></g></g>
<g id="row54" transform="translate(0,2818)"><g id="k54-1"><use href="#gl" x="84"/></g><g id="k54-2"><use href="#yl" x="136"/></g><g id="k54-3"><use href="#yl" x="188"/></g><g id="k54-4"><use href="#yl" x="240"/></g><g id="k54-5"><use href="#rl" x="292"/></g><g id="k54-6"><use href="#rl" x="344"/></g><g id="k54-7"><use href="#rl" x="396"/></g><g id="k54-8"><use href="#rl" x="448"/></g><g id="k54-9"><use href="#gl" x="500"/></g></g>
<g id="row55" transform="translate(0,2870)"><g id="k55-1"><use href="#gr" x="84"/></g><g id="k55-2"><use href="#yr" x="136"/></g><g id="k55-3"><use href="#yr" x="188"/></g><g id="k55-4"><use href="#yr" x="240"/></g><g id="k55-5"><use href="#rr" x="292"/></g><g id="k55-6"><use href="#rr" x="344"/></g><g id="k55-7"><use href="#rr" x="396"/></g><g id="k55-8"><use href="#yr" x="448"/></g><g id="k55-9"><use href="#gr" x="500"/></g></g>
<g id="row56" transform="translate(0,2922)"><g id="k56-1"><use href="#gl" x="84"/></g><g id="k56-2"><use href="#yl" x="136"/></g><g id="k56-3"><use href="#yl" x="188"/></g><g id="k56-4"><use href="#yl" x="240"/></g><g id="k56-5"><use href="#rl" x="292"/></g><g id="k56-6"><use href="#rl" x="344"/></g><g id="k56-7"><use href="#rl" x="396"/></g><g id="k56-8"><use href="#yl" x="448"/></g><g id="k56-9"><use href="#gl" x="500"/></g></g>
<g id="row57" transform="translate(0,2974)"><g id="k57-1"><use href="#gr" x="84"/></g><g id="k57-2"><use href="#gr" x="136"/></g><g id="k57-3"><use href="#gr" x="188"/></g><g id="k57-4"><use href="#gr" x="240"/></g><g id="k57-5"><use href="#yr" x="292"/></g><g id="k57-6"><use href="#yr" x="344"/></g><g id="k57-7"><use href="#rr" x="396"/></g><g id="k57-8"><use href="#gr" x="448"/></g><g id="k57-9"><use href="#gr" x="500"/></g></g>
<g id="row58" transform="translate(0,3026)"><g id="k58-1"><use href="#gl" x="84"/></g><g id="k58-2"><use href="#gl" x="136"/></g><g id="k58-3"><use href="#gl" x="188"/></g><g id="k58-4"><use href="#gl" x="240"/></g><g id="k58-5"><use href="#yl" x="292"/></g><g id="k58-6"><use href="#rl" x="344"/></g><g id="k58-7"><use href="#gl" x="396"/></g><g id="k58-8"><use href="#gl" x="448"/></g><g id="k58-9"><use href="#gl" x="500"/></g></g>
<g id="row59" transform="translate(0,3078)"><g id="k59-1"><use href="#gr" x="84"/></g><g id="k59-2"><use href="#gr" x="136"/></g><g id="k59-3"><use href="#gr" x="188"/></g><g id="k59-4"><use href="#gr" x="240"/></g><g id="k59-5"><use href="#gr" x="292"/></g><g id="k59-6"><use href="#gr" x="344"/></g><g id="k59-7"><use href="#gr" x="396"/></g><g id="k59-8"><use href="#gr" x="448"/></g><g id="k59-9"><use href="#gr" x="500"/></g></g>
</g>
<text x="294" y="1601.5" font-family="'Liberation Sans',Arial,sans-serif" font-size="16" font-weight="bold" text-anchor="middle" textLength="154" lengthAdjust="spacingAndGlyphs" fill="#3a3a3a" stroke="#fff" stroke-width="1.5" paint-order="stroke">BRACELETBOOK.COM</text>
</svg>
